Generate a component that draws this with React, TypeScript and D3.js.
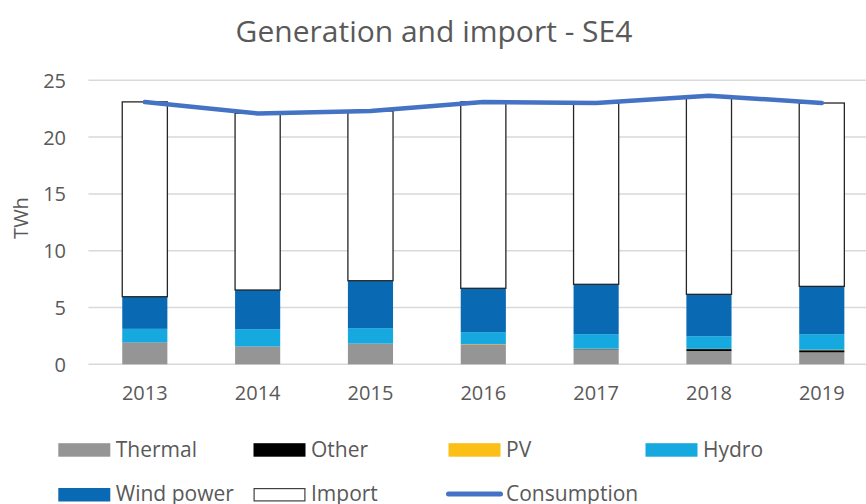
import React from "react";
import * as d3 from "d3";

const years = ["2013", "2014", "2015", "2016", "2017", "2018", "2019"];
const thermal = [1.92, 1.56, 1.8, 1.75, 1.32, 1.17, 1.05];
const other = [0.01, 0.01, 0.01, 0.01, 0.03, 0.17, 0.19];
const pv = [0.0, 0.0, 0.01, 0.03, 0.02, 0.02, 0.04];
const hydro = [1.19, 1.52, 1.36, 1.04, 1.28, 1.11, 1.37];
const wind = [2.83, 3.45, 4.18, 3.86, 4.39, 3.69, 4.21];
const importVals = [17.15, 15.56, 14.94, 16.41, 15.96, 17.49, 16.14];
const consumption = [23.08, 22.08, 22.3, 23.08, 23.0, 23.65, 23.0];
const yTicks = [0, 5, 10, 15, 20, 25];

const seriesNames = ["Thermal", "Other", "PV", "Hydro", "Wind power", "Import"];
const seriesValues = [thermal, other, pv, hydro, wind, importVals];
const seriesColors = ["#959595", "#000000", "#FBBF17", "#15A9E0", "#0A69B3", "#FFFFFF"];

const W = 866;
const H = 504;
const FONT = "'Open Sans', Lato, sans-serif";
const TEXT = "#595959";

export default function App() {
  const x = d3.scaleBand<string>().domain(years).range([88.4, 878.2]).padding(0);
  const y = d3.scaleLinear().domain([0, 25]).range([364.3, 80.3]);
  const bw = x.bandwidth() * 0.4;

  const table = years.map((yr, i) => {
    const row: any = { year: yr };
    seriesNames.forEach((n, k) => (row[n] = seriesValues[k][i]));
    return row;
  });
  const stacked = d3.stack<any>().keys(seriesNames)(table);

  const line = d3
    .line<number>()
    .x((_, i) => (x(years[i]) as number) + x.bandwidth() / 2)
    .y((d) => y(d));

  const legendCols = [58.3, 253.5, 448.5, 645.5];
  const swW = 52;
  const swH = 13.5;
  const txtOff = 57.5;

  return (
    <svg width={W} height={H} style={{ position: "absolute", left: 0, top: 0 }}>
      <rect x={0} y={0} width={W} height={H} fill="#fff" />
      <text x={434} y={41.7} textAnchor="middle" fontFamily={FONT} fontSize={30} fill={TEXT}>
        Generation and import - SE4
      </text>
      {yTicks.map((t) => (
        <g key={t}>
          <line x1={88.4} x2={W} y1={y(t)} y2={y(t)} stroke="#D9D9D9" strokeWidth={1.5} />
          <text x={66} y={y(t) + 7.5} textAnchor="end" fontFamily={FONT} fontSize={20} fill={TEXT}>
            {t}
          </text>
        </g>
      ))}
      <text
        transform={`translate(27.5,218) rotate(-90)`}
        textAnchor="middle"
        fontFamily={FONT}
        fontSize={20}
        fill={TEXT}
      >
        TWh
      </text>
      {years.map((yr) => (
        <text
          key={yr}
          x={(x(yr) as number) + x.bandwidth() / 2}
          y={400}
          textAnchor="middle"
          fontFamily={FONT}
          fontSize={20}
          fill={TEXT}
        >
          {yr}
        </text>
      ))}
      {stacked.map((s, k) => (
        <g key={seriesNames[k]}>
          {s.map((d, i) => {
            const cx = (x(years[i]) as number) + x.bandwidth() / 2;
            const isImport = seriesNames[k] === "Import";
            const h = y(d[0]) - y(d[1]);
            if (h <= 0) return null;
            return (
              <rect
                key={i}
                x={cx - bw / 2}
                y={y(d[1])}
                width={bw}
                height={h}
                fill={seriesColors[k]}
                stroke={isImport ? "#262626" : "none"}
                strokeWidth={isImport ? 1.3 : 0}
              />
            );
          })}
        </g>
      ))}
      <path
        d={line(consumption) || ""}
        fill="none"
        stroke="#4472C4"
        strokeWidth={4.5}
        strokeLinecap="round"
        strokeLinejoin="round"
      />
      {[0, 1, 2, 3].map((k, j) => (
        <g key={seriesNames[k]}>
          <rect x={legendCols[j]} y={443.2} width={swW} height={swH} fill={seriesColors[k]} />
          <text x={legendCols[j] + txtOff} y={456.5} fontFamily={FONT} fontSize={21} fill={TEXT}>
            {seriesNames[k]}
          </text>
        </g>
      ))}
      <g>
        <rect x={legendCols[0]} y={488} width={swW} height={swH} fill={seriesColors[4]} />
        <text x={legendCols[0] + txtOff} y={501.3} fontFamily={FONT} fontSize={21} fill={TEXT}>
          {seriesNames[4]}
        </text>
        <rect
          x={legendCols[1] + 0.6}
          y={488.6}
          width={swW - 1.2}
          height={swH - 1.2}
          fill="#fff"
          stroke="#404040"
          strokeWidth={1.2}
        />
        <text x={legendCols[1] + txtOff} y={501.3} fontFamily={FONT} fontSize={21} fill={TEXT}>
          {seriesNames[5]}
        </text>
        <line
          x1={legendCols[2] + 0}
          x2={legendCols[2] + swW}
          y1={494}
          y2={494}
          stroke="#4472C4"
          strokeWidth={5}
          strokeLinecap="round"
        />
        <text x={legendCols[2] + txtOff} y={501.3} fontFamily={FONT} fontSize={21} fill={TEXT}>
          Consumption
        </text>
      </g>
    </svg>
  );
}
